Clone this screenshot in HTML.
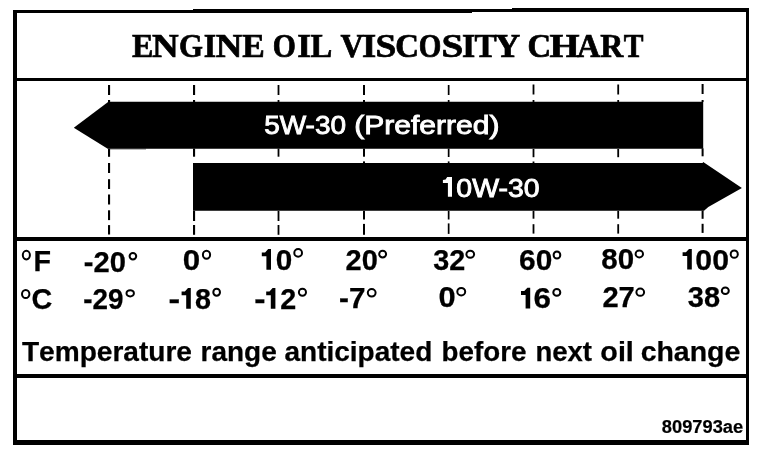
<!DOCTYPE html>
<html>
<head>
<meta charset="utf-8">
<title>Engine Oil Viscosity Chart</title>
<style>
html,body{margin:0;padding:0;background:#fff;}
body{width:768px;height:460px;overflow:hidden;position:relative;}
svg{position:absolute;left:0;top:0;display:block;filter:grayscale(1);}
.sans{font-family:"Liberation Sans",sans-serif;}
.serif{font-family:"Liberation Serif",serif;}
</style>
</head>
<body>
<svg width="768" height="460" viewBox="0 0 768 460">
<rect x="0" y="0" width="768" height="460" fill="#fff"/>
<!-- frame and rules -->
<g fill="#000" shape-rendering="crispEdges">
  <rect x="13" y="10" width="4" height="435"/>
  <rect x="746" y="8" width="3" height="437"/>
  <rect x="13" y="10" width="180" height="3"/>
  <rect x="193" y="9" width="279" height="4"/>
  <rect x="472" y="9" width="40" height="3"/>
  <rect x="512" y="8" width="237" height="4"/>
  <rect x="13" y="440" width="736" height="5"/>
  <rect x="13" y="78" width="736" height="3"/>
  <rect x="13" y="237" width="736" height="4"/>
  <rect x="13" y="374" width="736" height="4"/>
</g>
<!-- dashed guide lines -->
<g fill="#000">
  <rect x="108.0" y="85" width="2.10" height="10.00"/>
  <rect x="108.0" y="100" width="2.10" height="2.00"/>
  <rect x="108.0" y="148.6" width="2.10" height="8.20"/>
  <rect x="108.0" y="163" width="2.10" height="10.00"/>
  <rect x="108.0" y="179.2" width="2.10" height="9.80"/>
  <rect x="108.0" y="194.5" width="2.10" height="10.00"/>
  <rect x="108.0" y="210.3" width="2.10" height="9.80"/>
  <rect x="108.0" y="225.1" width="2.10" height="9.40"/>
  <rect x="193.0" y="85" width="2.10" height="10.00"/>
  <rect x="193.0" y="100" width="2.10" height="2.00"/>
  <rect x="193.0" y="148.6" width="2.10" height="8.10"/>
  <rect x="193.0" y="210.9" width="2.10" height="10.10"/>
  <rect x="193.0" y="225" width="2.10" height="9.80"/>
  <rect x="277.6" y="85" width="1.80" height="10.00"/>
  <rect x="277.6" y="100" width="1.80" height="2.00"/>
  <rect x="277.6" y="148.6" width="1.80" height="8.10"/>
  <rect x="277.6" y="210.9" width="1.80" height="10.10"/>
  <rect x="277.6" y="225" width="1.80" height="9.80"/>
  <rect x="363.0" y="85" width="2.00" height="10.00"/>
  <rect x="363.0" y="100" width="2.00" height="2.00"/>
  <rect x="363.0" y="148.6" width="2.00" height="8.10"/>
  <rect x="363.0" y="161.4" width="2.00" height="1.60"/>
  <rect x="363.0" y="210.9" width="2.00" height="8.60"/>
  <rect x="363.0" y="223.9" width="2.00" height="10.90"/>
  <rect x="447.8" y="85" width="1.70" height="10.00"/>
  <rect x="447.8" y="100" width="1.70" height="2.00"/>
  <rect x="447.8" y="148.6" width="1.70" height="8.40"/>
  <rect x="447.8" y="161.4" width="1.70" height="1.60"/>
  <rect x="447.8" y="210.9" width="1.70" height="8.60"/>
  <rect x="447.8" y="223.4" width="1.70" height="10.50"/>
  <rect x="532.6" y="84.5" width="1.80" height="10.00"/>
  <rect x="532.6" y="100" width="1.80" height="2.00"/>
  <rect x="532.6" y="149" width="1.80" height="8.20"/>
  <rect x="532.6" y="161.5" width="1.80" height="1.50"/>
  <rect x="532.6" y="210.9" width="1.80" height="7.80"/>
  <rect x="532.6" y="224.2" width="1.80" height="9.40"/>
  <rect x="617.3" y="84.5" width="1.80" height="10.00"/>
  <rect x="617.3" y="100" width="1.80" height="2.00"/>
  <rect x="617.3" y="149" width="1.80" height="8.20"/>
  <rect x="617.3" y="210.9" width="1.80" height="7.80"/>
  <rect x="617.3" y="224.2" width="1.80" height="9.40"/>
  <rect x="701.6" y="84" width="2.00" height="10.00"/>
  <rect x="701.6" y="100" width="2.00" height="2.00"/>
  <rect x="701.6" y="148.4" width="2.00" height="7.90"/>
  <rect x="701.6" y="210.6" width="2.00" height="8.20"/>
  <rect x="701.6" y="223.8" width="2.00" height="9.10"/>
</g>
<!-- arrows -->
<polygon points="73.8,127.7 108.4,101.8 703.2,101.8 703.2,148.7 107.7,148.7" fill="#000"/>
<rect x="110" y="148.6" width="36" height="0.9" fill="#000" opacity="0.55"/>
<polygon points="193,162.9 702.6,162.9 703.2,162 741.9,188 708.3,207 704,210.8 193,210.8" fill="#000"/>
<!-- title -->
<g class="serif" font-weight="bold" font-size="33" fill="#000">
  <text x="132.04" y="56.80" textLength="21.40" lengthAdjust="spacingAndGlyphs" stroke="#000" stroke-width="0.7">E</text>
  <text x="152.07" y="56.80" textLength="26.69" lengthAdjust="spacingAndGlyphs" stroke="#000" stroke-width="0.7">N</text>
  <text x="179.10" y="56.80" textLength="23.97" lengthAdjust="spacingAndGlyphs" stroke="#000" stroke-width="0.7">G</text>
  <text x="203.66" y="56.80" textLength="12.37" lengthAdjust="spacingAndGlyphs" stroke="#000" stroke-width="0.7">I</text>
  <text x="215.87" y="56.80" textLength="26.62" lengthAdjust="spacingAndGlyphs" stroke="#000" stroke-width="0.7">N</text>
  <text x="242.24" y="56.80" textLength="22.48" lengthAdjust="spacingAndGlyphs" stroke="#000" stroke-width="0.7">E</text>
  <text x="272.64" y="56.80" textLength="23.08" lengthAdjust="spacingAndGlyphs" stroke="#000" stroke-width="0.7">O</text>
  <text x="297.19" y="56.80" textLength="13.75" lengthAdjust="spacingAndGlyphs" stroke="#000" stroke-width="0.7">I</text>
  <text x="310.44" y="56.80" textLength="21.74" lengthAdjust="spacingAndGlyphs" stroke="#000" stroke-width="0.7">L</text>
  <text x="340.50" y="56.80" textLength="23.13" lengthAdjust="spacingAndGlyphs" stroke="#000" stroke-width="0.7">V</text>
  <text x="362.06" y="56.80" textLength="14.18" lengthAdjust="spacingAndGlyphs" stroke="#000" stroke-width="0.7">I</text>
  <text x="375.42" y="56.80" textLength="20.80" lengthAdjust="spacingAndGlyphs" stroke="#000" stroke-width="0.7">S</text>
  <text x="395.30" y="56.80" textLength="23.73" lengthAdjust="spacingAndGlyphs" stroke="#000" stroke-width="0.7">C</text>
  <text x="418.84" y="56.80" textLength="22.59" lengthAdjust="spacingAndGlyphs" stroke="#000" stroke-width="0.7">O</text>
  <text x="441.64" y="56.80" textLength="21.78" lengthAdjust="spacingAndGlyphs" stroke="#000" stroke-width="0.7">S</text>
  <text x="462.12" y="56.80" textLength="13.21" lengthAdjust="spacingAndGlyphs" stroke="#000" stroke-width="0.7">I</text>
  <text x="474.45" y="56.80" textLength="22.19" lengthAdjust="spacingAndGlyphs" stroke="#000" stroke-width="0.7">T</text>
  <text x="494.83" y="56.80" textLength="25.48" lengthAdjust="spacingAndGlyphs" stroke="#000" stroke-width="0.7">Y</text>
  <text x="527.40" y="56.80" textLength="23.58" lengthAdjust="spacingAndGlyphs" stroke="#000" stroke-width="0.7">C</text>
  <text x="549.42" y="56.80" textLength="30.06" lengthAdjust="spacingAndGlyphs" stroke="#000" stroke-width="0.7">H</text>
  <text x="576.92" y="56.80" textLength="23.34" lengthAdjust="spacingAndGlyphs" stroke="#000" stroke-width="0.7">A</text>
  <text x="600.23" y="56.80" textLength="23.08" lengthAdjust="spacingAndGlyphs" stroke="#000" stroke-width="0.7">R</text>
  <text x="623.84" y="56.80" textLength="19.71" lengthAdjust="spacingAndGlyphs" stroke="#000" stroke-width="0.7">T</text>
</g>
<!-- arrow labels -->
<g class="sans" fill="#fff" font-size="26">
  <text x="264.17" y="133.80" textLength="81.91" lengthAdjust="spacingAndGlyphs" stroke="#fff" stroke-width="0.9">5W-30</text>
  <text x="354.24" y="133.80" textLength="145.15" lengthAdjust="spacingAndGlyphs" stroke="#fff" stroke-width="0.9">(Preferred)</text>
  <text x="456.33" y="196.60" textLength="83.25" lengthAdjust="spacingAndGlyphs" stroke="#fff" stroke-width="0.9" font-size="26.5">0W-30</text>
  <polygon stroke="none" points="447.9,177 452,177 452,196.8 447.9,196.8 447.9,183 442.9,183 442.9,179.9 445.6,179.5 447.2,177"/>
</g>
<!-- temperature labels -->
<g class="sans" font-weight="bold" font-size="28.6" fill="#000">
  <text x="33.38" y="270.90" font-size="30" textLength="17.50" lengthAdjust="spacingAndGlyphs" stroke="#000" stroke-width="0.25">F</text>
  <text x="83.88" y="272.00" textLength="42.14" lengthAdjust="spacingAndGlyphs" stroke="#000" stroke-width="0.25">-20</text>
  <text x="182.70" y="270.00" textLength="17.41" lengthAdjust="spacingAndGlyphs" stroke="#000" stroke-width="0.25">0</text>
  <text x="275.85" y="269.80" textLength="16.53" lengthAdjust="spacingAndGlyphs" stroke="#000" stroke-width="0.25">0</text>
  <text x="345.53" y="269.80" textLength="32.26" lengthAdjust="spacingAndGlyphs" stroke="#000" stroke-width="0.25">20</text>
  <text x="433.22" y="269.80" textLength="32.00" lengthAdjust="spacingAndGlyphs" stroke="#000" stroke-width="0.25">32</text>
  <text x="519.09" y="270.30" textLength="33.22" lengthAdjust="spacingAndGlyphs" stroke="#000" stroke-width="0.25">60</text>
  <text x="601.36" y="269.20" textLength="32.85" lengthAdjust="spacingAndGlyphs" stroke="#000" stroke-width="0.25">80</text>
  <text x="695.34" y="269.60" textLength="33.63" lengthAdjust="spacingAndGlyphs" stroke="#000" stroke-width="0.25">00</text>
  <text x="31.61" y="309.00" font-size="30" textLength="20.77" lengthAdjust="spacingAndGlyphs" stroke="#000" stroke-width="0.25">C</text>
  <text x="83.14" y="308.90" textLength="40.25" lengthAdjust="spacingAndGlyphs" stroke="#000" stroke-width="0.25">-29</text>
  <text x="168.64" y="308.80" textLength="11.65" lengthAdjust="spacingAndGlyphs" stroke="#000" stroke-width="0.25">-</text>
  <text x="195.01" y="308.80" textLength="15.99" lengthAdjust="spacingAndGlyphs" stroke="#000" stroke-width="0.25">8</text>
  <text x="254.36" y="308.80" textLength="11.26" lengthAdjust="spacingAndGlyphs" stroke="#000" stroke-width="0.25">-</text>
  <text x="280.15" y="308.80" textLength="15.99" lengthAdjust="spacingAndGlyphs" stroke="#000" stroke-width="0.25">2</text>
  <text x="339.07" y="307.80" textLength="26.44" lengthAdjust="spacingAndGlyphs" stroke="#000" stroke-width="0.25">-7</text>
  <text x="438.42" y="307.30" textLength="17.17" lengthAdjust="spacingAndGlyphs" stroke="#000" stroke-width="0.25">0</text>
  <text x="533.45" y="308.40" textLength="17.44" lengthAdjust="spacingAndGlyphs" stroke="#000" stroke-width="0.25">6</text>
  <text x="602.43" y="307.40" textLength="32.41" lengthAdjust="spacingAndGlyphs" stroke="#000" stroke-width="0.25">27</text>
  <text x="687.83" y="306.50" textLength="32.22" lengthAdjust="spacingAndGlyphs" stroke="#000" stroke-width="0.25">38</text>
  <polygon points="266.40,269.80 271.00,269.80 271.00,249.10 268.20,249.10 265.10,252.40 261.80,252.40 261.80,256.30 266.40,256.30"/>
  <polygon points="687.20,269.60 691.80,269.60 691.80,248.90 689.00,248.90 685.90,252.20 682.60,252.20 682.60,256.10 687.20,256.10"/>
  <polygon points="186.20,308.80 190.80,308.80 190.80,288.10 188.00,288.10 184.90,291.40 181.60,291.40 181.60,295.30 186.20,295.30"/>
  <polygon points="270.80,308.80 275.40,308.80 275.40,288.10 272.60,288.10 269.50,291.40 266.20,291.40 266.20,295.30 270.80,295.30"/>
  <polygon points="525.60,308.40 530.20,308.40 530.20,287.70 527.40,287.70 524.30,291.00 521.00,291.00 521.00,294.90 525.60,294.90"/>
</g>
<g fill="none" stroke="#000" stroke-width="2.0">
  <ellipse cx="26.35" cy="255.10" rx="3.55" ry="4.30"/>
  <ellipse cx="132.90" cy="256.25" rx="3.30" ry="3.15"/>
  <ellipse cx="206.50" cy="254.80" rx="3.60" ry="4.00"/>
  <ellipse cx="298.15" cy="252.90" rx="3.85" ry="3.80"/>
  <ellipse cx="382.65" cy="254.10" rx="3.45" ry="3.30"/>
  <ellipse cx="470.25" cy="254.30" rx="3.85" ry="3.50"/>
  <ellipse cx="556.95" cy="255.00" rx="3.35" ry="3.50"/>
  <ellipse cx="639.30" cy="253.95" rx="3.70" ry="3.45"/>
  <ellipse cx="734.25" cy="254.15" rx="3.55" ry="3.65"/>
  <ellipse cx="25.70" cy="294.00" rx="3.70" ry="4.10"/>
  <ellipse cx="130.20" cy="293.35" rx="3.70" ry="3.15"/>
  <ellipse cx="216.65" cy="292.25" rx="3.35" ry="3.45"/>
  <ellipse cx="302.45" cy="292.25" rx="3.55" ry="3.45"/>
  <ellipse cx="371.70" cy="292.80" rx="3.90" ry="3.70"/>
  <ellipse cx="461.25" cy="291.70" rx="3.95" ry="3.70"/>
  <ellipse cx="556.80" cy="292.40" rx="3.50" ry="3.30"/>
  <ellipse cx="640.25" cy="292.15" rx="3.85" ry="3.55"/>
  <ellipse cx="725.30" cy="290.80" rx="3.50" ry="3.30"/>
</g>
<!-- caption -->
<g class="sans" font-weight="bold" font-size="28.3" fill="#000" style="font-kerning:none">
  <text x="21.90" y="360.60" textLength="170.11" lengthAdjust="spacingAndGlyphs" stroke="#000" stroke-width="0.25">Temperature</text>
  <text x="200.56" y="360.60" textLength="76.14" lengthAdjust="spacingAndGlyphs" stroke="#000" stroke-width="0.25">range</text>
  <text x="284.46" y="360.60" textLength="147.86" lengthAdjust="spacingAndGlyphs" stroke="#000" stroke-width="0.25">anticipated</text>
  <text x="441.56" y="360.60" textLength="84.82" lengthAdjust="spacingAndGlyphs" stroke="#000" stroke-width="0.25">before</text>
  <text x="535.38" y="360.60" textLength="56.54" lengthAdjust="spacingAndGlyphs" stroke="#000" stroke-width="0.25">next</text>
  <text x="600.36" y="360.60" textLength="33.47" lengthAdjust="spacingAndGlyphs" stroke="#000" stroke-width="0.25">oil</text>
  <text x="640.67" y="360.60" textLength="99.62" lengthAdjust="spacingAndGlyphs" stroke="#000" stroke-width="0.25">change</text>
</g>
<g class="sans" font-weight="bold" font-size="18" fill="#000">
  <text x="661.89" y="433.30" textLength="81.24" lengthAdjust="spacingAndGlyphs" stroke="#000" stroke-width="0.2">809793ae</text>
</g>
</svg>
</body>
</html>
